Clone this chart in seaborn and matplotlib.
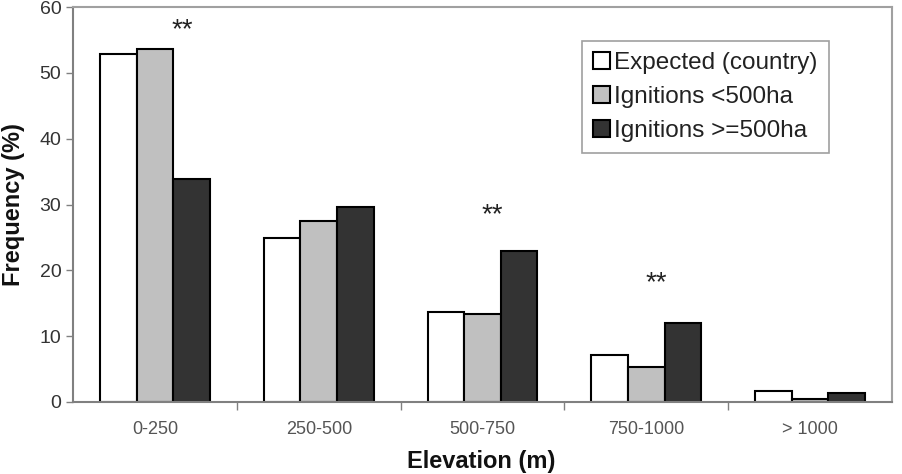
import seaborn as sns
import matplotlib.pyplot as plt
import pandas as pd

# data
categories = ["0-250", "250-500", "500-750", "750-1000", "> 1000"]
expected = [52.8, 24.9, 13.6, 7.2, 1.7]
ign_small = [53.6, 27.5, 13.3, 5.3, 0.5]
ign_large = [33.9, 29.6, 22.9, 12.0, 1.4]
series = ["Expected (country)", "Ignitions <500ha", "Ignitions >=500ha"]
colors = ["#ffffff", "#c0c0c0", "#333333"]

# significance marks: (category index offset, height)
star_x = [0.165, 2.06, 3.06]
star_y = [56.5, 28.4, 18.1]

df = pd.DataFrame({
    "Elevation": categories * 3,
    "Frequency": expected + ign_small + ign_large,
    "Serie": [series[0]] * 5 + [series[1]] * 5 + [series[2]] * 5,
})

sns.set_theme(style="white")
plt.rcParams["font.family"] = ["Liberation Sans", "DejaVu Sans"]

fig = plt.figure(figsize=(9.02, 4.74), dpi=100)
ax = fig.add_axes([0.081, 0.152, 0.908, 0.833])

sns.barplot(data=df, x="Elevation", y="Frequency", hue="Serie",
            palette=colors, width=0.67, edgecolor="black", linewidth=1.5,
            saturation=1, ax=ax)

for x, y in zip(star_x, star_y):
    ax.text(x, y, "**", ha="center", va="center", fontsize=20, color="#222222")

ax.set_ylim(0, 60)
ax.set_xlim(-0.5, 4.5)
ax.set_yticks(range(0, 61, 10))
ax.set_xlabel("")
ax.set_ylabel("Frequency (%)", fontsize=17, fontweight="bold", color="#111111", labelpad=10)
fig.text(0.534, 0.002, "Elevation (m)", ha="center", va="bottom",
         fontsize=17, fontweight="bold", color="#111111")

ax.tick_params(axis="y", labelsize=14, labelcolor="#333333", length=5, color="#808080",
               left=True, width=1)
ax.tick_params(axis="x", labelsize=13, labelcolor="#555555", length=0, pad=14)
# tick marks between the categories
ax.set_xticks([0.5, 1.5, 2.5, 3.5], minor=True)
ax.tick_params(axis="x", which="minor", bottom=True, length=6, color="#808080", width=1)

for side in ["left", "bottom"]:
    ax.spines[side].set_color("#808080")
    ax.spines[side].set_linewidth(1.5)
for side in ["top", "right"]:
    ax.spines[side].set_color("#a0a0a0")
    ax.spines[side].set_linewidth(1.5)

leg = ax.legend(loc="upper left", bbox_to_anchor=(0.621, 0.914), borderaxespad=0,
                fontsize=17.5, handlelength=0.7, handleheight=0.7, handletextpad=0.2,
                labelspacing=0.5, borderpad=0.45, fancybox=False, framealpha=1)
leg.get_frame().set_edgecolor("#a0a0a0")
leg.get_frame().set_linewidth(1.2)
for t in leg.get_texts():
    t.set_color("#222222")

fig.savefig("out.png", dpi=100)
